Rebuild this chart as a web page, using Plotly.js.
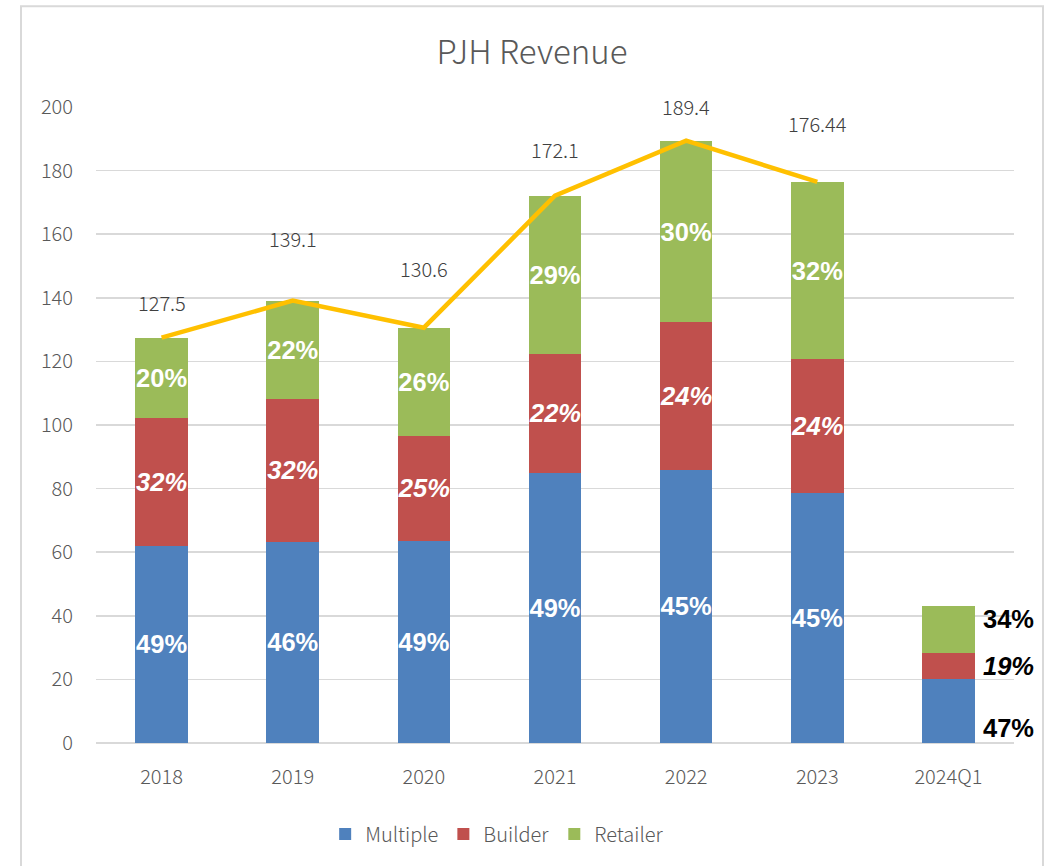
<!DOCTYPE html>
<html><head><meta charset="utf-8">
<script src="https://cdn.plot.ly/plotly-3.0.1.min.js"></script>
<style>html,body{margin:0;padding:0;background:#fff}#chart{width:1053px;height:866px}</style>
</head><body><div id="chart"></div>
<script>
const categories = ['2018','2019','2020','2021','2022','2023','2024Q1'];
const multiple = [62.1, 63.3, 63.6, 85.0, 85.9, 78.7, 20.1];
const builder  = [40.1, 44.9, 33.0, 37.3, 46.4, 42.0, 8.1];
const retailer = [25.3, 30.9, 34.0, 49.8, 57.1, 55.74, 14.8];
const multiplePct = ['49%','46%','49%','49%','45%','45%','47%'];
const builderPct  = ['32%','32%','25%','22%','24%','24%','19%'];
const retailerPct = ['20%','22%','26%','29%','30%','32%','34%'];
const totalCats = ['2018','2019','2020','2021','2022','2023'];
const totals = [127.5, 139.1, 130.6, 172.1, 189.4, 176.44];
const totalLabels = ['127.5','139.1','130.6','172.1','189.4','176.44'];

const TXT = '"Noto Sans CJK SC", "Noto Sans", sans-serif';
const LAB = '"Liberation Sans", Arial, sans-serif';
const last = categories.length - 1;
const inText = arr => arr.map((t,i) => i === last ? '' : t);
// annotation x on a category axis: use the category's index (numeric-looking strings would be misread)
const catPos = c => categories.indexOf(c);

function barTrace(name, y, pct, color, italic){
  return {
    type:'bar', name:name, x:categories, y:y, marker:{color:color},
    width:0.4, text:inText(pct), textposition:'inside', insidetextanchor:'middle',
    textangle:0, constraintext:'none', cliponaxis:false,
    textfont:{family:LAB, size:25.5, color:'#ffffff', weight:'bold', style: italic?'italic':'normal'},
    hoverinfo:'skip'
  };
}
const traces = [
  barTrace('Multiple', multiple, multiplePct, '#4F81BD', false),
  barTrace('Builder', builder, builderPct, '#C0504D', true),
  barTrace('Retailer', retailer, retailerPct, '#9BBB59', false),
  {type:'scatter', mode:'lines', x:totalCats, y:totals, showlegend:false,
   line:{color:'#FFC000', width:4.5}, hoverinfo:'skip', cliponaxis:false}
];

const labelShift = [35, 62, 59, 46, 34, 58];
const annotations = totalCats.map((c,i)=>({
  x:catPos(c), y:totals[i], xref:'x', yref:'y', text:totalLabels[i], showarrow:false,
  yshift:labelShift[i], font:{family:TXT, size:20, color:'#404040', weight:300}
}));
const lastTotal = multiple[last] + builder[last] + retailer[last];
annotations.push(
  {x:last, y:lastTotal, xref:'x', yref:'y', text:retailerPct[last], showarrow:false,
   xanchor:'left', yanchor:'top', xshift:33, yshift:3, font:{family:LAB, size:25.5, color:'#000', weight:'bold'}},
  {x:last, y:multiple[last] + builder[last]/2, xref:'x', yref:'y', text:builderPct[last], showarrow:false,
   xanchor:'left', yanchor:'middle', xshift:33, font:{family:LAB, size:25.5, color:'#000', weight:'bold', style:'italic'}},
  {x:last, y:0, xref:'x', yref:'y', text:multiplePct[last], showarrow:false,
   xanchor:'left', yanchor:'bottom', xshift:33, yshift:-1, font:{family:LAB, size:25.5, color:'#000', weight:'bold'}}
);

const layout = {
  width:1053, height:866, paper_bgcolor:'#fff', plot_bgcolor:'#fff',
  margin:{l:96, r:39, t:107, b:121},
  barmode:'stack', bargap:0.6,
  title:{text:'PJH Revenue', x:0.475, xref:'paper', y:1-52/866, yref:'container', yanchor:'middle', xanchor:'center',
         font:{family:TXT, size:33, color:'#595959', weight:300}},
  xaxis:{type:'category', range:[-0.5, categories.length-0.5], autorange:false,
         tickfont:{family:TXT, size:20, color:'#595959', weight:300}, showgrid:false, showline:false,
         ticks:'', ticklabelstandoff:20, fixedrange:true},
  yaxis:{range:[0,200], autorange:false, dtick:20, tick0:0, showgrid:true, gridcolor:'#d9d9d9', gridwidth:1.5,
         zeroline:true, zerolinecolor:'#d9d9d9', zerolinewidth:1.5, showline:false, ticks:'',
         tickfont:{family:TXT, size:20, color:'#595959', weight:300}, ticklabelstandoff:22, fixedrange:true},
  legend:{orientation:'h', x:0.437, xanchor:'center', y:-0.143, yanchor:'middle', traceorder:'normal',
          font:{family:TXT, size:20, color:'#595959', weight:300}, itemwidth:30},
  annotations:annotations,
  shapes:[{type:'rect', xref:'paper', yref:'paper', x0:(21-96)/918, x1:(1043-96)/918, y0:-0.3, y1:(745-6)/638,
           line:{color:'#d9d9d9', width:2}, fillcolor:'rgba(0,0,0,0)', layer:'below'}],
  showlegend:true
};
Plotly.newPlot('chart', traces, layout, {displayModeBar:false, staticPlot:true});
</script></body></html>
